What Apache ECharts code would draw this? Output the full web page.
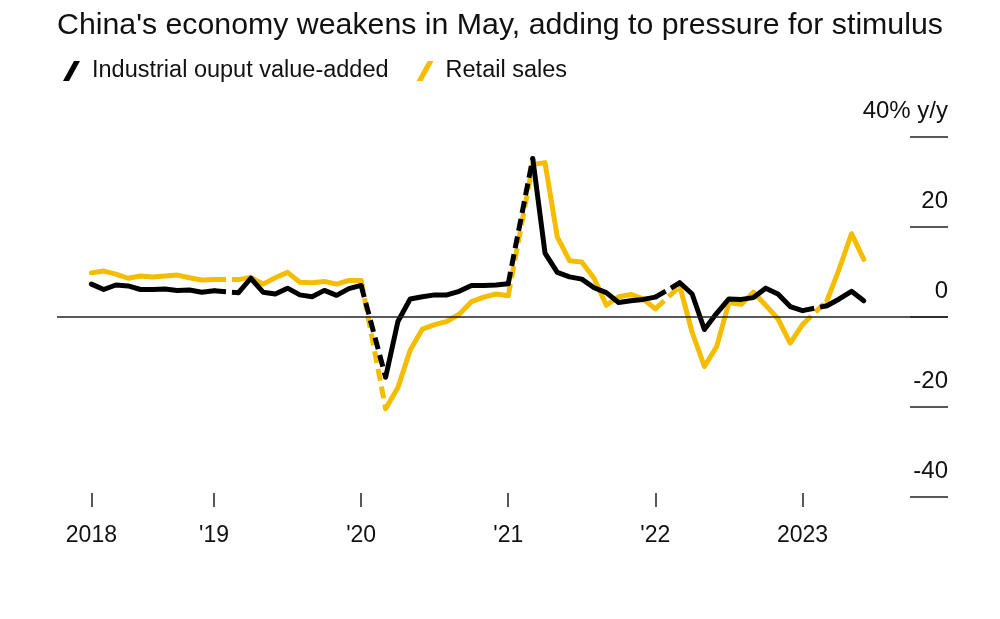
<!DOCTYPE html>
<html>
<head>
<meta charset="utf-8">
<script src="https://cdn.jsdelivr.net/npm/echarts@6/dist/echarts.min.js"></script>
<style>
html,body{margin:0;padding:0;background:#fff;}
#chart{width:1000px;height:619px;}
</style>
</head>
<body>
<div id="chart"></div>
<script>
// Reporting periods (Jan-Feb are combined in China's data, shown at February)
const periods = [
  '2018-02','2018-03','2018-04','2018-05','2018-06','2018-07','2018-08','2018-09','2018-10','2018-11','2018-12',
  '2019-02','2019-03','2019-04','2019-05','2019-06','2019-07','2019-08','2019-09','2019-10','2019-11','2019-12',
  '2020-02','2020-03','2020-04','2020-05','2020-06','2020-07','2020-08','2020-09','2020-10','2020-11','2020-12',
  '2021-02','2021-03','2021-04','2021-05','2021-06','2021-07','2021-08','2021-09','2021-10','2021-11','2021-12',
  '2022-02','2022-03','2022-04','2022-05','2022-06','2022-07','2022-08','2022-09','2022-10','2022-11','2022-12',
  '2023-02','2023-03','2023-04','2023-05'
];
const industrialOutput = [
  7.2, 6.0, 7.0, 6.8, 6.0, 6.0, 6.1, 5.8, 5.9, 5.4, 5.7,
  5.3, 8.5, 5.4, 5.0, 6.3, 4.8, 4.4, 5.8, 4.7, 6.2, 6.9,
  -13.5, -1.1, 3.9, 4.4, 4.8, 4.8, 5.6, 6.9, 6.9, 7.0, 7.3,
  35.1, 14.1, 9.8, 8.8, 8.3, 6.4, 5.3, 3.1, 3.5, 3.8, 4.3,
  7.5, 5.0, -2.9, 0.7, 3.9, 3.8, 4.2, 6.3, 5.0, 2.2, 1.3,
  2.4, 3.9, 5.6, 3.5
];
const retailSales = [
  9.7, 10.1, 9.4, 8.5, 9.0, 8.8, 9.0, 9.2, 8.6, 8.1, 8.2,
  8.2, 8.7, 7.2, 8.6, 9.8, 7.6, 7.5, 7.8, 7.2, 8.0, 8.0,
  -20.5, -15.8, -7.5, -2.8, -1.8, -1.1, 0.5, 3.3, 4.3, 5.0, 4.6,
  33.8, 34.2, 17.7, 12.4, 12.1, 8.5, 2.5, 4.4, 4.9, 3.9, 1.7,
  6.7, -3.5, -11.1, -6.7, 3.1, 2.7, 5.4, 2.5, -0.5, -5.9, -1.8,
  3.5, 10.6, 18.4, 12.7
];
const xTickPeriods = ['2018-02','2018-12','2019-12','2020-12','2021-12','2022-12'];
const xTickLabels = ['2018', "'19", "'20", "'21", "'22", '2023'];
const yTickLabels = {'-40':'-40','-20':'-20','0':'0','20':'20','40':'40% y/y'};

const seriesNames = ['Industrial ouput value-added', 'Retail sales'];
const colors = {ip: '#000000', retail: '#F5BD00'};

function monthIndex(p){
  const [y, m] = p.split('-').map(Number);
  return (y - 2018) * 12 + m;
}
const xTickValues = xTickPeriods.map(monthIndex);

function build(values){
  const solid = [], dashed = [];
  let prevX = null, prevV = null;
  periods.forEach((p, i) => {
    const x = monthIndex(p), v = values[i];
    if (prevX !== null && x - prevX > 1) {
      solid.push([(x + prevX) / 2, null]);
      dashed.push([prevX, prevV], [x, v], [x + 0.5, null]);
    }
    solid.push([x, v]);
    prevX = x; prevV = v;
  });
  return {solid, dashed};
}
const ip = build(industrialOutput);
const rs = build(retailSales);

const FONT = 'Liberation Sans, Arial, sans-serif';
const chart = echarts.init(document.getElementById('chart'), null, {renderer: 'canvas'});
const LW = 5;
chart.setOption({
  animation: false,
  backgroundColor: '#ffffff',
  title: {
    text: "China's economy weakens in May, adding to pressure for stimulus",
    left: 52, top: 6,
    textStyle: {fontFamily: FONT, fontSize: 30.3, fontWeight: 'normal', color: '#111'}
  },
  legend: {
    data: seriesNames,
    left: 58, top: 54,
    itemWidth: 17, itemHeight: 20, itemGap: 28,
    icon: 'path://M11,0 L17,0 L6,20 L0,20 Z',
    textStyle: {fontFamily: FONT, fontSize: 23.5, color: '#111', padding: [0, 0, 0, 7]}
  },
  grid: {left: 57, right: 52, top: 136.5, height: 360, containLabel: false},
  xAxis: {
    type: 'value',
    min: -0.806, max: 71.87,
    offset: -3.5,
    axisLine: {show: false, onZero: false},
    splitLine: {show: false},
    axisTick: {show: true, customValues: xTickValues, length: 14, lineStyle: {color: '#222', width: 1.5}},
    axisLabel: {
      customValues: xTickValues,
      margin: 31,
      fontFamily: FONT, fontSize: 23, color: '#111',
      formatter: v => xTickLabels[xTickValues.indexOf(v)]
    }
  },
  yAxis: {
    type: 'value',
    position: 'right',
    min: -40, max: 40, interval: 20,
    axisLine: {show: false, onZero: false},
    splitLine: {show: false},
    axisTick: {show: true, inside: true, length: 38, lineStyle: {color: '#222', width: 1.5}},
    axisLabel: {
      inside: true, margin: 0, align: 'right', verticalAlign: 'bottom',
      lineHeight: 24, padding: [0, 0, 13, 0],
      fontFamily: FONT, fontSize: 24, color: '#111',
      formatter: v => yTickLabels[String(v)]
    }
  },
  series: [
    {
      name: seriesNames[1], type: 'line', data: rs.solid, showSymbol: false, symbol: 'none',
      connectNulls: false, color: colors.retail,
      lineStyle: {width: LW, color: colors.retail, cap: 'round', join: 'round'},
      markLine: {
        silent: true, symbol: ['none', 'none'], label: {show: false},
        lineStyle: {type: 'solid', color: '#222', width: 1.5},
        data: [{yAxis: 0}]
      },
      z: 2
    },
    {
      name: 'retail-jan-feb', type: 'line', data: rs.dashed, showSymbol: false, symbol: 'none',
      connectNulls: false, color: colors.retail,
      lineStyle: {width: LW, color: colors.retail, type: [12, 6], cap: 'butt', join: 'round'},
      z: 2
    },
    {
      name: seriesNames[0], type: 'line', data: ip.solid, showSymbol: false, symbol: 'none',
      connectNulls: false, color: colors.ip,
      lineStyle: {width: LW, color: colors.ip, cap: 'round', join: 'round'},
      z: 3
    },
    {
      name: 'ip-jan-feb', type: 'line', data: ip.dashed, showSymbol: false, symbol: 'none',
      connectNulls: false, color: colors.ip,
      lineStyle: {width: LW, color: colors.ip, type: [12, 6], cap: 'butt', join: 'round'},
      z: 3
    }
  ]
});
</script>
</body>
</html>
